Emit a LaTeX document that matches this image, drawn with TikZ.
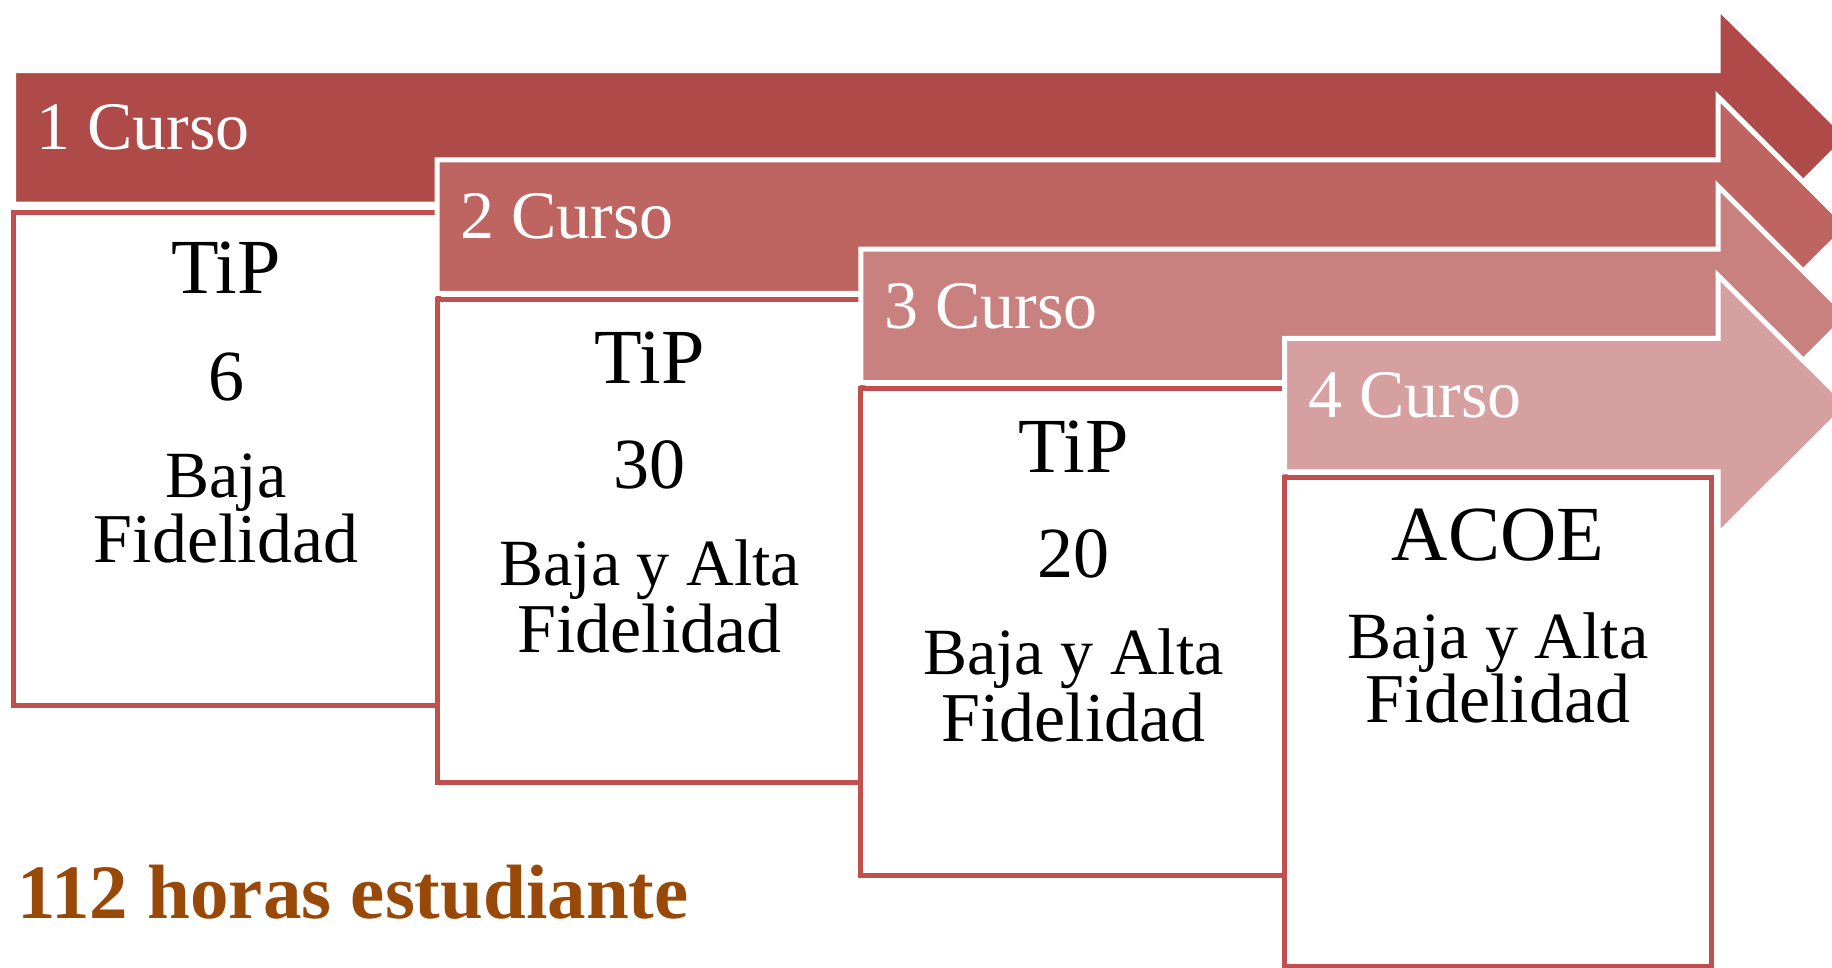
\documentclass[tikz,border=0pt]{standalone}
\usepackage{fontspec}
\setmainfont{Liberation Serif}
\definecolor{arA}{HTML}{AE4A47}
\definecolor{arB}{HTML}{BE6461}
\definecolor{arC}{HTML}{C98180}
\definecolor{arD}{HTML}{D6A0A0}
\definecolor{boxred}{HTML}{C0504D}
\definecolor{brown}{HTML}{984807}
\tikzset{
  arrowshape/.style={draw=white, line width=5pt, line join=miter},
  boxshape/.style={draw=boxred, fill=white, line width=5pt},
  curso/.style={text=white, anchor=base west, inner sep=0pt, font=\fontsize{68}{80}\selectfont},
  tip/.style={anchor=base, inner sep=0pt, font=\fontsize{78}{90}\selectfont},
  num/.style={anchor=base, inner sep=0pt, font=\fontsize{72}{84}\selectfont},
  body/.style={anchor=base, inner sep=0pt, font=\fontsize{66}{78}\selectfont},
  bodyb/.style={anchor=base, inner sep=0pt, font=\fontsize{70}{82}\selectfont},
  total/.style={anchor=base west, inner sep=0pt, text=brown, font=\bfseries\fontsize{77}{90}\selectfont}
}
\begin{document}
\begin{tikzpicture}[x=1pt,y=-1pt]
\useasboundingbox (0,0) rectangle (1832,967);
\clip (0,0) rectangle (1832,967);
% ---- arrow 1 + box 1
\filldraw[arrowshape, fill=arA] (13.5,70.5) -- (1718,70.5) -- (1718,7.5) -- (1848,137.25) -- (1718,267) -- (1718,204) -- (13.5,204) -- cycle;
\node[curso] (c1) at (36,149) {1 Curso};
\draw[boxshape] (13.5,212.5) rectangle (438.5,705.5);
% ---- arrow 2 + box 2
\filldraw[arrowshape, fill=arB] (437.2,159.8) -- (1718,159.8) -- (1718,96.8) -- (1848,226.55) -- (1718,356.3) -- (1718,293.3) -- (437.2,293.3) -- cycle;
\node[curso] (c2) at (460,238.5) {2 Curso};
\draw[boxshape] (437.2,299.5) rectangle (862.2,782);
% ---- arrow 3 + box 3
\filldraw[arrowshape, fill=arC] (860.9,249.1) -- (1718,249.1) -- (1718,186.1) -- (1848,315.85) -- (1718,445.6) -- (1718,382.6) -- (860.9,382.6) -- cycle;
\node[curso] (c3) at (884,328) {3 Curso};
\draw[boxshape] (860.9,388.5) rectangle (1285.9,875);
% ---- arrow 4 + box 4
\filldraw[arrowshape, fill=arD] (1284.6,338.4) -- (1718,338.4) -- (1718,275.4) -- (1848,405.15) -- (1718,534.9) -- (1718,471.9) -- (1284.6,471.9) -- cycle;
\node[curso] (c4) at (1308,417) {4 Curso};
\draw[boxshape] (1284.6,477.5) rectangle (1711.5,966);
% ---- box texts
\node[tip]   (t1a) at (226,293) {TiP};
\node[num]   (t1b) at (226,400) {6};
\node[body]  (t1c) at (226,497) {Baja};
\node[bodyb] (t1d) at (226,562) {Fidelidad};
\node[tip]   (t2a) at (649.7,383) {TiP};
\node[num]   (t2b) at (649.7,488) {30};
\node[body]  (t2c) at (649.7,585) {Baja y Alta};
\node[bodyb] (t2d) at (649.7,652) {Fidelidad};
\node[tip]   (t3a) at (1073.4,472) {TiP};
\node[num]   (t3b) at (1073.4,577) {20};
\node[body]  (t3c) at (1073.4,674) {Baja y Alta};
\node[bodyb] (t3d) at (1073.4,741) {Fidelidad};
\node[tip]   (t4a) at (1498,560) {ACOE};
\node[body]  (t4c) at (1498,658) {Baja y Alta};
\node[bodyb] (t4d) at (1498,722) {Fidelidad};
% ---- total
\node[total] (tot) at (17,918) {112 horas estudiante};
\end{tikzpicture}
\end{document}
